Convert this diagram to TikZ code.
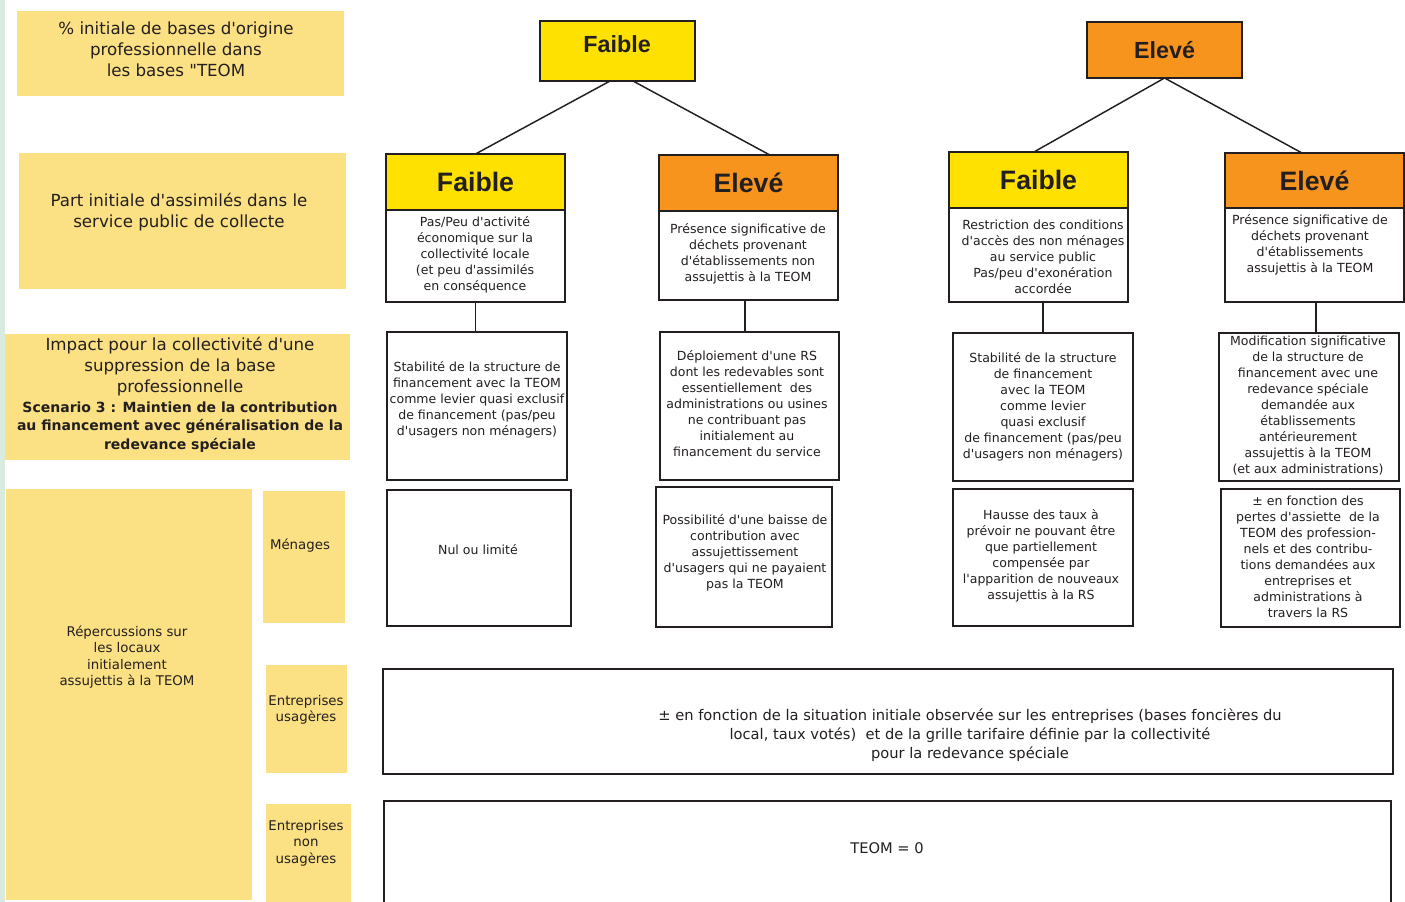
\documentclass[tikz,border=0pt]{standalone}
\usepackage{fontspec}
\setmainfont{DejaVu Sans}[Ligatures=TeXOff]
\newfontfamily\hdrfont{Liberation Sans}
\usetikzlibrary{calc}
\definecolor{ink}{HTML}{231F20}
\definecolor{hyel}{HTML}{FFE100}
\definecolor{horg}{HTML}{F7941E}
\definecolor{lyel}{HTML}{FBE183}
\definecolor{strip}{HTML}{D9EBDF}
\begin{document}
\begin{tikzpicture}[x=0.75pt,y=-0.75pt,
 sz/.style 2 args={minimum width={#1*0.75pt},minimum height={#2*0.75pt}},
 base/.style={inner sep=0pt,outer sep=0pt,anchor=north west},
 box/.style={base,draw=ink,line width=1.4pt,fill=white},
 ybox/.style={box,fill=hyel,text=ink,font=\hdrfont\bfseries\fontsize{20}{22}\selectfont},
 obox/.style={ybox,fill=horg},
 lbox/.style={base,fill=lyel},
 txt/.style={align=center,text=ink,font=\fontsize{9.4}{12}\selectfont,inner sep=0pt},
 ltxt/.style={align=center,text=ink,font=\fontsize{12.5}{15.75}\selectfont,inner sep=0pt},
 stxt/.style={align=center,text=ink,font=\fontsize{10}{12.4}\selectfont,inner sep=0pt},
 btxt/.style={align=center,text=ink,font=\bfseries\fontsize{10.5}{14}\selectfont,inner sep=0pt},
 wtxt/.style={align=center,text=ink,font=\fontsize{11}{14.25}\selectfont,inner sep=0pt},
 link/.style={draw=ink,line width=1.1pt}]

\useasboundingbox (0,0) rectangle (1405,902);
\fill[strip] (0,0) rectangle (5,902);

% left labels
\node[lbox,sz={327}{85}] (la) at (17,11) {};
\node[ltxt] (lat) at (176,49) {\% initiale de bases d'origine\\professionnelle dans\\les bases "TEOM};
\node[lbox,sz={327}{136}] (lb) at (19,153) {};
\node[ltxt] (lbt) at (179,212) {Part initiale d'assimilés dans le\\service public de collecte};
\node[lbox,sz={345}{126}] (lc) at (5,334) {};
\node[ltxt] (lct) at (180,367) {Impact pour la collectivité d'une\\suppression de la base\\professionnelle};
\node[btxt] (lcb) at (180,427) {Scenario 3 : Maintien de la contribution\\au financement avec généralisation de la\\redevance spéciale};
\node[lbox,sz={246}{411}] (ld) at (6,489) {};
\node[stxt] (ldt) at (127,657) {Répercussions sur\\les locaux\\initialement\\assujettis à la TEOM};
\node[lbox,sz={82}{132}] (lm) at (263,491) {};
\node[stxt] (lmt) at (300,546) {Ménages};
\node[lbox,sz={81}{108}] (leu) at (266,665) {};
\node[stxt] (leut) at (306,710) {Entreprises\\usagères};
\node[lbox,sz={85}{100}] (len) at (266,804) {};
\node[stxt] (lent) at (306,843) {Entreprises\\non\\usagères};

% top headers
\node[ybox,sz={155}{60}] (tf) at (540,21) {};
\node[text=ink,font=\hdrfont\bfseries\fontsize{17.5}{20}\selectfont,inner sep=0pt] (tft) at (617,44) {Faible};
\node[obox,sz={155}{56},font=\hdrfont\bfseries\fontsize{17.5}{20}\selectfont] (te) at (1087,22) {Elevé};

% column headers
\node[ybox,sz={179}{56}] (h1) at (386,154) {Faible};
\node[box,sz={179}{92}] (d1) at (386,210) {};
\node[obox,sz={179}{56}] (h2) at (659,155) {Elevé};
\node[box,sz={179}{89}] (d2) at (659,211) {};
\node[ybox,sz={179}{56}] (h3) at (949,152) {Faible};
\node[box,sz={179}{94}] (d3) at (949,208) {};
\node[obox,sz={179}{55}] (h4) at (1225,153) {Elevé};
\node[box,sz={179}{94}] (d4) at (1225,208) {};

\node[txt] (d1t) at (475,255) {Pas/Peu d'activité\\économique sur la\\collectivité locale\\(et peu d'assimilés\\en conséquence};
\node[txt] (d2t) at (748,254) {Présence significative de\\déchets provenant\\d'établissements non\\assujettis à la TEOM};
\node[txt] (d3t) at (1043,257) {Restriction des conditions\\d'accès des non ménages\\au service public\\Pas/peu d'exonération\\accordée};
\node[txt] (d4t) at (1310,245) {Présence significative de\\déchets provenant\\d'établissements\\assujettis à la TEOM};

% impact boxes
\node[box,sz={180}{148}] (b1) at (387,332) {};
\node[box,sz={179}{148}] (b2) at (660,332) {};
\node[box,sz={180}{148}] (b3) at (953,333) {};
\node[box,sz={180}{148}] (b4) at (1219,333) {};
\node[txt] (b1t) at (477,400) {Stabilité de la structure de\\financement avec la TEOM\\comme levier quasi exclusif\\de financement (pas/peu\\d'usagers non ménagers)};
\node[txt] (b2t) at (747,404) {Déploiement d'une RS\\dont les redevables sont\\essentiellement\ \ des\\administrations ou usines\\ne contribuant pas\\initialement au\\financement du service};
\node[txt] (b3t) at (1043,407) {Stabilité de la structure\\de financement\\avec la TEOM\\comme levier\\quasi exclusif\\de financement (pas/peu\\d'usagers non ménagers)};
\node[txt] (b4t) at (1308,406) {Modification significative\\de la structure de\\financement avec une\\redevance spéciale\\demandée aux\\établissements\\antérieurement\\assujettis à la TEOM\\(et aux administrations)};

% menages boxes
\node[box,sz={184}{136}] (c1) at (387,490) {};
\node[box,sz={176}{140}] (c2) at (656,487) {};
\node[box,sz={180}{137}] (c3) at (953,489) {};
\node[box,sz={179}{138}] (c4) at (1221,489) {};
\node[txt] (c1t) at (478,550) {Nul ou limité};
\node[txt] (c2t) at (745,553) {Possibilité d'une baisse de\\contribution avec\\assujettissement\\d'usagers qui ne payaient\\pas la TEOM};
\node[txt] (c3t) at (1041,556) {Hausse des taux à\\prévoir ne pouvant être\\que partiellement\\compensée par\\l'apparition de nouveaux\\assujettis à la RS};
\node[txt] (c4t) at (1308,557) {± en fonction des\\pertes d'assiette\ \ de la\\TEOM des profession-\\nels et des contribu-\\tions demandées aux\\entreprises et\\administrations à\\travers la RS};

% wide boxes
\node[box,sz={1010}{105}] (w1) at (383,669) {};
\node[wtxt] (w1t) at (970,735) {± en fonction de la situation initiale observée sur les entreprises (bases foncières du\\local, taux votés)\ \ et de la grille tarifaire définie par la collectivité\\pour la redevance spéciale};
\node[box,sz={1007}{112}] (w2) at (384,801) {};
\node[wtxt] (w2t) at (887,848) {TEOM = 0};

% connectors
\draw[link] ([xshift=-5.6pt]tf.south) -- (h1.north);
\draw[link] ([xshift=11.6pt]tf.south) -- ([xshift=16pt]h2.north);
\draw[link] (te.south) -- ([xshift=-3.4pt]h3.north);
\draw[link] (te.south) -- ([xshift=-9.4pt]h4.north);
\draw[link] (d1.south) -- (d1.south |- b1.north);
\draw[link] ([xshift=-2.6pt]d2.south) -- ([xshift=-2.6pt]d2.south |- b2.north);
\draw[link] ([xshift=3.4pt]d3.south) -- ([xshift=3.4pt]d3.south |- b3.north);
\draw[link] ([xshift=1.1pt]d4.south) -- ([xshift=1.1pt]d4.south |- b4.north);
\end{tikzpicture}
\end{document}
